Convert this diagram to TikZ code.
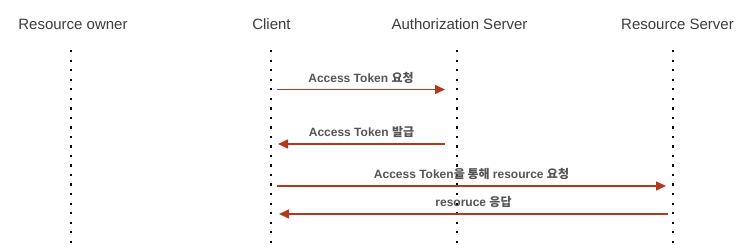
\documentclass[tikz,border=0pt]{standalone}
\usepackage{fontspec}
\setmainfont{Liberation Sans}
\newfontfamily\kr{Noto Sans CJK KR}
\usetikzlibrary{arrows.meta,positioning}
\definecolor{rust}{HTML}{B03A1E}
\definecolor{headgray}{HTML}{3C3C3C}
\definecolor{msggray}{HTML}{555555}
\tikzset{
  actorname/.style={
    font=\fontsize{15}{18}\selectfont, text=headgray,
    anchor=base, inner sep=0pt
  },
  lifeline/.style={
    line width=2.2pt, line cap=butt,
    dash pattern=on 2.2pt off 7.32pt
  },
  msgarrow/.style={
    -{Triangle[length=10pt,width=9pt]}, line width=1.6pt, color=rust
  },
  msglabel/.style={
    font=\fontsize{12}{14}\selectfont\bfseries, text=msggray,
    anchor=base, inner sep=0pt, yshift=7pt
  },
}
\begin{document}
\begin{tikzpicture}[x=1pt,y=-1pt]
  \useasboundingbox (0,0) rectangle (739,248);
  % actors
  \node[actorname] (owner) at (73,29.3) {Resource owner};
  \node[actorname] (client) at (271.5,29.3) {Client};
  \node[actorname] (auth) at (459.5,29.3) {Authorization Server};
  \node[actorname] (rserver) at (677.5,29.3) {Resource Server};
  % lifelines
  \coordinate (owner top) at (71,50.2);
  \coordinate (owner bot) at (71,243);
  \coordinate (client top) at (271,50.2);
  \coordinate (client bot) at (271,243);
  \coordinate (auth top) at (457,50.2);
  \coordinate (auth bot) at (457,243);
  \coordinate (rserver top) at (673,50.2);
  \coordinate (rserver bot) at (673,243);
  \draw[lifeline] (owner top) -- (owner bot);
  \draw[lifeline] (client top) -- (client bot);
  \draw[lifeline] (auth top) -- (auth bot);
  \draw[lifeline] (rserver top) -- (rserver bot);
  % messages
  \coordinate (req from) at (277,89.5);
  \coordinate (req to) at (445,89.5);
  \coordinate (iss from) at (445,144);
  \coordinate (iss to) at (278,144);
  \coordinate (use from) at (277,186);
  \coordinate (use to) at (666,186);
  \coordinate (res from) at (668,214);
  \coordinate (res to) at (279,214);
  \draw[msgarrow] (req from) -- node[msglabel] (req) {Access Token {\kr 요청}} (req to);
  \draw[msgarrow] (iss from) -- node[msglabel] (iss) {Access Token {\kr 발급}} (iss to);
  \draw[msgarrow] (use from) -- node[msglabel] (use) {Access Token{\kr 을 통해} resource {\kr 요청}} (use to);
  \draw[msgarrow] (res from) -- node[msglabel] (res) {resoruce {\kr 응답}} (res to);
\end{tikzpicture}
\end{document}
